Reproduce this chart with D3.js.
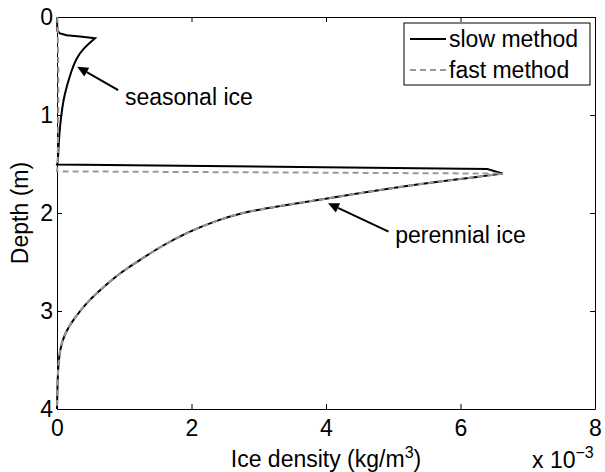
<!DOCTYPE html>
<html>
<head>
<meta charset="utf-8">
<script src="https://cdn.jsdelivr.net/npm/d3@7"></script>
<style>
    body { margin: 0; background: #fff; }
    text { font-family: "Liberation Sans", Arial, Helvetica, sans-serif; }
</style>
</head>
<body>
<div id="chart-container"></div>
<script>
// depth (m) vs ice density (x 10^-3 kg/m^3)
const slowDepth = [0, 0.14, 0.167, 0.187, 0.20, 0.217, 0.32, 0.42, 0.54, 0.71, 0.85, 1.02, 1.19, 1.36, 1.48, 1.505, 1.551,
    1.598, 1.63, 1.66, 1.70, 1.77, 1.86, 1.93, 2.0, 2.08, 2.19, 2.33, 2.48, 2.6, 2.75, 2.9, 3.06, 3.23, 3.4, 3.6, 4.0]
const slowDensity = [0, 0.005, 0.045, 0.144, 0.342, 0.565, 0.39, 0.29, 0.218, 0.144, 0.094, 0.06, 0.035, 0.02, 0.012, 0, 6.40,
    6.63, 6.27, 5.92, 5.45, 4.75, 3.95, 3.28, 2.72, 2.36, 1.96, 1.57, 1.23, 0.96, 0.7, 0.46, 0.27, 0.11, 0.04, 0.012, 0]

const fastDepth = [0, 0.3, 0.6, 0.9, 1.2, 1.5, 1.575,
    1.598, 1.63, 1.66, 1.70, 1.77, 1.86, 1.93, 2.0, 2.08, 2.19, 2.33, 2.48, 2.6, 2.75, 2.9, 3.06, 3.23, 3.4, 3.6, 4.0]
const fastDensity = [0.005, 0.015, 0.02, 0.02, 0.015, 0.01, 0,
    6.63, 6.27, 5.92, 5.45, 4.75, 3.95, 3.28, 2.72, 2.36, 1.96, 1.57, 1.23, 0.96, 0.7, 0.46, 0.27, 0.11, 0.04, 0.012, 0]

// where each series has a sharp corner (index), curves in between are smooth
const slowCorners = [0, 5, 14, 17, slowDepth.length - 1]
const fastCorners = [0, 7, fastDepth.length - 1]

const xTicks = [0, 2, 4, 6, 8]
const yTicks = [0, 1, 2, 3, 4]
const legendKeys = ["slow method", "fast method"]

const W = 605, H = 472
const margin = {top: 17, right: 10, bottom: 63, left: 57}
const fontSize = 23

const x = d3.scaleLinear().domain([0, 8]).range([margin.left, W - margin.right])
const y = d3.scaleLinear().domain([0, 4]).range([margin.top, H - margin.bottom])

const svg = d3.select("#chart-container")
    .append("svg")
        .attr("width", W)
        .attr("height", H)

// axes, ticks point inward like matlab
svg.append("g")
    .attr("transform", `translate(0, ${y(4)})`)
    .call(d3.axisBottom(x).tickValues(xTicks).tickFormat(d3.format("d")).tickSize(-5).tickSizeOuter(0).tickPadding(11))
    .attr("font-size", fontSize)
svg.append("g")
    .attr("transform", `translate(${x(0)}, 0)`)
    .call(d3.axisLeft(y).tickValues(yTicks).tickFormat(d3.format("d")).tickSize(-5).tickSizeOuter(0).tickPadding(4))
    .attr("font-size", fontSize)
svg.append("g")
    .attr("transform", `translate(0, ${y(0)})`)
    .call(d3.axisTop(x).tickValues(xTicks).tickSize(-5).tickSizeOuter(0).tickFormat(""))
svg.append("g")
    .attr("transform", `translate(${x(8)}, 0)`)
    .call(d3.axisRight(y).tickValues(yTicks).tickSize(-5).tickSizeOuter(0).tickFormat(""))

svg.selectAll(".tick text").attr("fill", "#000")

const straight = d3.line().x(d => x(d[0])).y(d => y(d[1]))
const smooth = d3.line().x(d => x(d[0])).y(d => y(d[1])).curve(d3.curveBasis)

// alternate straight / smooth pieces between the corner points
function seriesPath(dens, depth, corners) {
    const pts = d3.zip(dens, depth)
    let d = ""
    for (let i = 0; i < corners.length - 1; i++) {
        const seg = pts.slice(corners[i], corners[i + 1] + 1)
        const p = (i % 2 === 0 ? straight : smooth)(seg)
        d += i === 0 ? p : "L" + p.slice(1)
    }
    return d
}

svg.append("path")
    .attr("fill", "none")
    .attr("stroke", "#000")
    .attr("stroke-width", 2)
    .attr("d", seriesPath(slowDensity, slowDepth, slowCorners))

svg.append("path")
    .attr("fill", "none")
    .attr("stroke", "#999")
    .attr("stroke-width", 2)
    .attr("stroke-dasharray", "6,4")
    .attr("d", seriesPath(fastDensity, fastDepth, fastCorners))

// arrows + labels (data coords)
function arrow(x0, y0, x1, y1) {
    const ax = x(x0), ay = y(y0), bx = x(x1), by = y(y1)
    const ang = Math.atan2(by - ay, bx - ax)
    const len = 11, hw = 5
    const baseX = bx - len * Math.cos(ang), baseY = by - len * Math.sin(ang)
    svg.append("line")
        .attr("x1", ax).attr("y1", ay)
        .attr("x2", baseX).attr("y2", baseY)
        .attr("stroke", "#000").attr("stroke-width", 2)
    svg.append("polygon")
        .attr("points", [
            [bx, by],
            [baseX + hw * Math.sin(ang), baseY - hw * Math.cos(ang)],
            [baseX - hw * Math.sin(ang), baseY + hw * Math.cos(ang)]
        ].map(p => p.join(",")).join(" "))
        .attr("fill", "#000")
}

arrow(0.91, 0.745, 0.30, 0.507)
svg.append("text").attr("x", x(1.01)).attr("y", y(0.898))
    .attr("font-size", fontSize).text("seasonal ice")

arrow(4.93, 2.19, 4.03, 1.9)
svg.append("text").attr("x", x(5.03)).attr("y", y(2.31))
    .attr("font-size", fontSize).text("perennial ice")

// axis labels
const xl = svg.append("text")
    .attr("x", (x(0) + x(8)) / 2)
    .attr("y", 467)
    .attr("text-anchor", "middle")
    .attr("font-size", fontSize)
xl.append("tspan").text("Ice density (kg/m")
xl.append("tspan").attr("font-size", 16).attr("dy", -9).text("3")
xl.append("tspan").attr("dy", 9).text(")")

const ex = svg.append("text")
    .attr("x", 532)
    .attr("y", 468)
    .attr("font-size", fontSize)
ex.append("tspan").text("x 10")
ex.append("tspan").attr("font-size", 16).attr("dy", -10).text("\u22123")

svg.append("text")
    .attr("transform", `translate(28, ${(y(0) + y(4)) / 2}) rotate(-90)`)
    .attr("text-anchor", "middle")
    .attr("font-size", fontSize)
    .text("Depth (m)")

// legend
svg.append("rect")
    .attr("x", 404).attr("y", 23)
    .attr("width", 186).attr("height", 62)
    .attr("fill", "#fff").attr("stroke", "#000")

let lineLegend = svg.selectAll(".lineLegend")
    .data(legendKeys)
    .enter().append("g")
    .attr("class", "lineLegend")
    .attr("transform", (d, i) => `translate(410, ${39 + i * 31})`)

lineLegend.append("line")
    .attr("x1", 0).attr("x2", 36)
    .attr("stroke", (d, i) => i === 0 ? "#000" : "#999")
    .attr("stroke-width", 2)
    .attr("stroke-dasharray", (d, i) => i === 0 ? null : "6,4")

lineLegend.append("text")
    .attr("x", 39)
    .attr("dy", "0.35em")
    .attr("font-size", fontSize)
    .text(d => d)
</script>
</body>
</html>
